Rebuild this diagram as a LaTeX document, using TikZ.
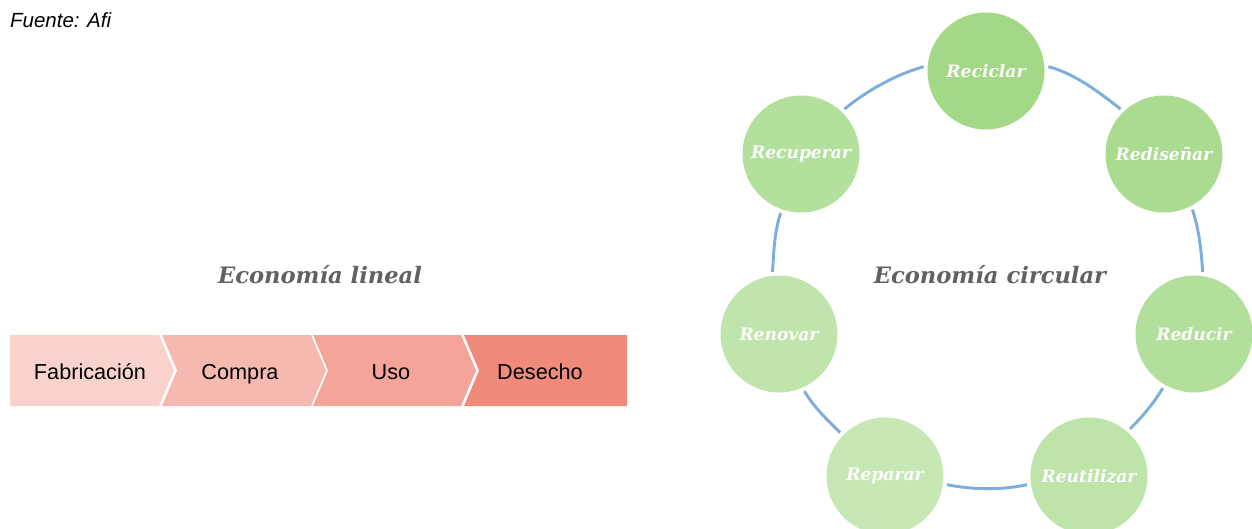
\documentclass[tikz,border=0pt]{standalone}
\usepackage{fontspec}
\setmainfont{Liberation Sans}
\newfontfamily\serifbi{DejaVu Serif}
\usetikzlibrary{arrows.meta}

\definecolor{segA}{HTML}{F8D2CB}
\definecolor{segB}{HTML}{F6B9AF}
\definecolor{segC}{HTML}{F4A498}
\definecolor{segD}{HTML}{F08B7C}
\definecolor{titlegray}{HTML}{606164}
\definecolor{ringblue}{HTML}{7EADDC}
\definecolor{gA}{HTML}{A2D886}
\definecolor{gB}{HTML}{AADB90}
\definecolor{gC}{HTML}{B3DF9C}
\definecolor{gD}{HTML}{BEE4A9}
\definecolor{gE}{HTML}{C7E8B5}
\definecolor{gF}{HTML}{C0E5AC}
\definecolor{gG}{HTML}{B4E09E}

\begin{document}
\begin{tikzpicture}[
  x=0.03cm, y=-0.03cm,
  lbl/.style={anchor=base, font=\fontsize{18.5}{20}\selectfont, text=black},
  title/.style={font=\serifbi\bfseries\itshape\fontsize{19.3}{24}\selectfont, text=titlegray},
  stage/.style={circle, minimum size=3.51cm, inner sep=0pt, outer sep=0.12cm,
    font=\serifbi\bfseries\itshape\fontsize{14.6}{16}\selectfont, text=white},
  ring/.style={draw=ringblue, line width=2.5pt, looseness=0.85}
]
\clip (0,0) rectangle (1252,529);

\node[anchor=base west, font=\itshape\fontsize{17.5}{20}\selectfont] (src) at (6,27) {Fuente: Afi};

% Linear economy
\node[title] (lineal) at (320,275) {Economía lineal};

\fill[segA] (10,335) -- (159,335) -- (174,370.5) -- (159,406) -- (10,406) -- cycle;
\fill[segB] (162,335) -- (311,335) -- (326,370.5) -- (311,406) -- (162,406) -- (177,370.5) -- cycle;
\fill[segC] (313,335) -- (461,335) -- (476,370.5) -- (461,406) -- (313,406) -- (328,370.5) -- cycle;
\fill[segD] (464,335) -- (627,335) -- (627,406) -- (464,406) -- (479,370.5) -- cycle;

\node[lbl] (fab) at (90,379) {Fabricación};
\node[lbl] (com) at (240,379) {Compra};
\node[lbl] (uso) at (391,379) {Uso};
\node[lbl] (des) at (540,379) {Desecho};

% Circular economy
\node[title] (circ) at (990,275) {Economía circular};

\node[stage, fill=gA] (recic) at (986,71)   {Reciclar};
\node[stage, fill=gB] (redis) at (1164,154) {Rediseñar};
\node[stage, fill=gC] (reduc) at (1194,334) {Reducir};
\node[stage, fill=gD] (reuti) at (1089,476) {Reutilizar};
\node[stage, fill=gE] (repar) at (885,476)  {Reparar};
\node[stage, fill=gF] (renov) at (779,334)  {Renovar};
\node[stage, fill=gG] (recup) at (801,154)  {Recuperar};

\draw[ring] (recic.4) to[out=-15, in=142] (redis.134);
\draw[ring] (redis.-63) to[out=-71, in=94] (reduc.82);
\draw[ring] (reduc.-120) to[out=-121, in=44] (reuti.49);
\draw[ring] (reuti.-172) to[out=-168, in=-11] (repar.-8);
\draw[ring] (repar.136) to[out=135, in=-60] (renov.-66);
\draw[ring] (renov.96) to[out=86, in=-109] (recup.-109);
\draw[ring] (recup.46) to[out=39, in=-164] (recic.176);

\end{tikzpicture}
\end{document}
